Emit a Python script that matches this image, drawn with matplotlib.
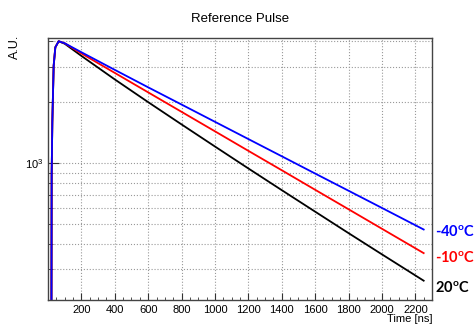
import matplotlib
matplotlib.use("Agg")
import matplotlib.pyplot as plt
from matplotlib.ticker import LogLocator, FixedLocator, MultipleLocator, NullFormatter

plt.rcParams['font.family'] = ['Liberation Sans', 'DejaVu Sans']
plt.rcParams['mathtext.fontset'] = 'custom'
plt.rcParams['mathtext.bf'] = 'Lato:bold'
plt.rcParams['mathtext.rm'] = 'Liberation Sans'

# Time points [ns]
time_ns = [20, 22, 26, 34, 44, 64, 100, 200, 400, 600, 800, 1000, 1200, 1400, 1600, 1800, 2000, 2250]
# Pulse amplitudes [A.U.]
pulse_20C = [100, 880, 1600, 3030, 3735, 4000, 3890, 3388, 2594, 2004, 1556, 1211, 944, 738, 578, 453, 356, 264]
pulse_m10C = [100, 880, 1600, 3030, 3735, 4000, 3910, 3483, 2793, 2239, 1795, 1439, 1153, 925, 741, 594, 476, 361]
pulse_m40C = [100, 880, 1600, 3030, 3735, 4000, 3910, 3532, 2891, 2371, 1950, 1603, 1318, 1084, 891, 733, 603, 472]

x_ticks = [200, 400, 600, 800, 1000, 1200, 1400, 1600, 1800, 2000, 2200]
labels = ["20", "-10", "-40"]
colors = ["black", "red", "blue"]
label_ypos = [0.115, 0.207, 0.286]

fig = plt.figure(figsize=(4.77, 3.25), dpi=100)
ax = fig.add_axes([0.1006, 0.0769, 0.8051, 0.8077])

for vals, c in zip([pulse_20C, pulse_m10C, pulse_m40C], colors):
    ax.plot(time_ns, vals, color=c, lw=1.3)

ax.set_yscale('log')
ax.set_xlim(0, 2300)
ax.set_ylim(212, 4174)

ax.xaxis.set_major_locator(FixedLocator(x_ticks))
ax.xaxis.set_minor_locator(MultipleLocator(50))
ax.yaxis.set_major_locator(LogLocator(base=10))
ax.yaxis.set_minor_locator(LogLocator(base=10, subs=[2, 3, 4, 5, 6, 7, 8, 9]))
ax.yaxis.set_minor_formatter(NullFormatter())

ax.tick_params(which='both', direction='in', labelsize=8, colors='#333333', labelcolor='black')
ax.tick_params(axis='x', which='major', length=5)
ax.tick_params(axis='x', which='minor', length=2.5)
ax.tick_params(axis='y', which='major', length=8)
ax.tick_params(axis='y', which='minor', length=3.5)
ax.tick_params(top=False, right=False)

ax.grid(True, which='major', axis='x', color='#999999', ls=':', lw=0.8)
ax.grid(True, which='both', axis='y', color='#999999', ls=':', lw=0.8)

for s in ax.spines.values():
    s.set_color('#444444')
    s.set_linewidth(1.0)

fig.text(0.503, 0.942, "Reference Pulse", ha='center', va='center', fontsize=9.5)
fig.text(0.032, 0.855, "A.U.", rotation=90, ha='center', va='center', fontsize=9)
fig.text(0.906, 0.018, "Time [ns]", ha='right', va='center', fontsize=8)

for lab, c, yp in zip(labels, colors, label_ypos):
    fig.text(0.912, yp, lab + r"$^{\mathbf{o}}$C", color=c, fontsize=10.5,
             family=['Lato', 'DejaVu Sans'], fontweight='bold', ha='left', va='center')

fig.savefig("out.png", dpi=100)
